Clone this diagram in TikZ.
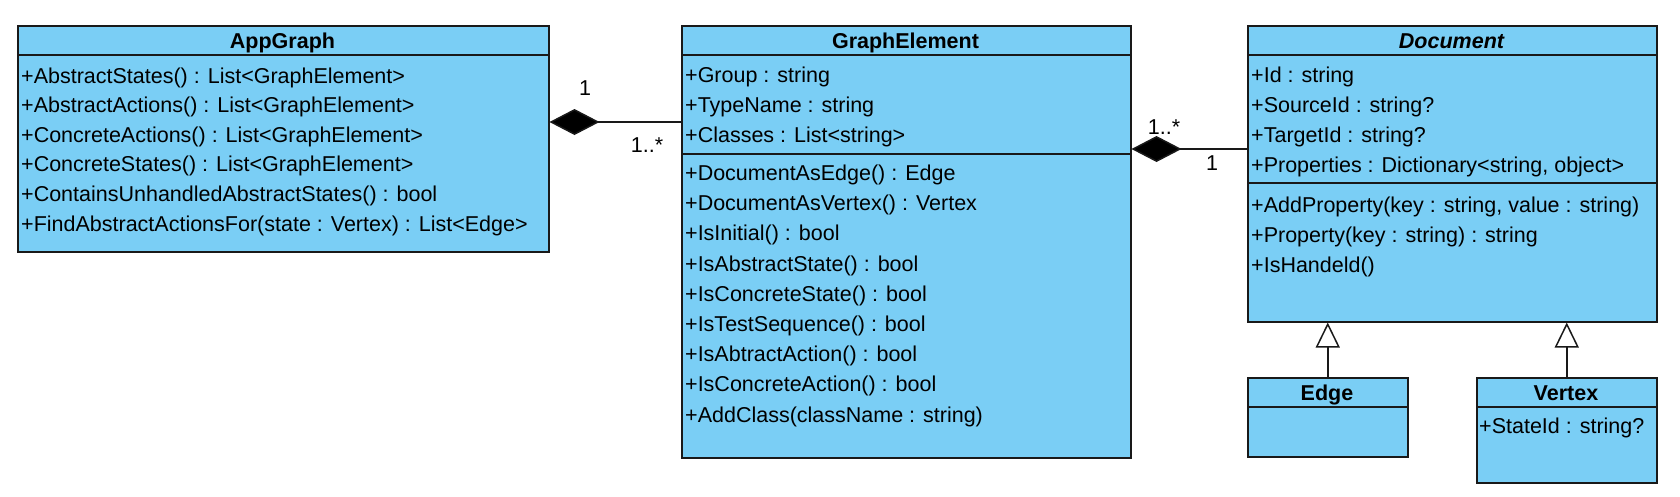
\documentclass[tikz,border=0pt]{standalone}
\usepackage{fontspec}
\setmainfont{Liberation Sans}
\usetikzlibrary{arrows.meta}
\definecolor{umlfill}{RGB}{122,206,245}
\definecolor{umlline}{RGB}{25,25,25}
\tikzset{
  classbox/.style={draw=umlline, fill=umlfill, line width=1.5pt, rectangle, inner sep=0pt, anchor=north west},
  member/.style={anchor=base west, inner sep=0pt, font=\fontsize{21.5}{25}\selectfont},
  classtitle/.style={anchor=base, inner sep=0pt, font=\fontsize{21.5}{25}\selectfont\bfseries},
  mult/.style={anchor=center, inner sep=0pt, font=\fontsize{21.5}{25}\selectfont},
  sepline/.style={draw=umlline, line width=1.5pt},
  composition/.style={draw=umlline, line width=1.5pt, {Diamond[length=50pt,width=26pt,fill=black]}-},
  generalization/.style={draw=umlline, line width=1.5pt, -{Triangle[open,length=25pt,width=24pt,fill=white]}},
}
\begin{document}
\begin{tikzpicture}[x=1pt,y=-1pt]
\useasboundingbox (0,0) rectangle (1680,496);
\fill[white] (0,0) rectangle (1680,496);

% ---------- boxes ----------
\node[classbox, minimum width=531pt, minimum height=226pt] (appgraph) at (17,25) {};
\node[classbox, minimum width=449pt, minimum height=432pt] (graphelement) at (681,25) {};
\node[classbox, minimum width=409pt, minimum height=296pt] (document) at (1247,25) {};
\node[classbox, minimum width=160pt, minimum height=79pt] (edge) at (1247,377) {};
\node[classbox, minimum width=180pt, minimum height=105pt] (vertex) at (1476,377) {};

% ---------- compartment lines ----------
\draw[sepline] (appgraph.west |- 0,55) -- (appgraph.east |- 0,55);
\draw[sepline] (graphelement.west |- 0,55) -- (graphelement.east |- 0,55);
\draw[sepline] (graphelement.west |- 0,154) -- (graphelement.east |- 0,154);
\draw[sepline] (document.west |- 0,55) -- (document.east |- 0,55);
\draw[sepline] (document.west |- 0,183) -- (document.east |- 0,183);
\draw[sepline] (edge.west |- 0,407) -- (edge.east |- 0,407);
\draw[sepline] (vertex.west |- 0,407) -- (vertex.east |- 0,407);

% ---------- titles ----------
\node[classtitle] (tappgraph) at (282.5,48) {AppGraph};
\node[classtitle] (tgraphelement) at (905.5,48) {GraphElement};
\node[classtitle] (tdocument) at (1451.5,48) {\itshape Document};
\node[classtitle] (tedge) at (1327,400) {Edge};
\node[classtitle] (tvertex) at (1566,400) {Vertex};

% ---------- AppGraph members ----------
\node[member] (ag1) at (21,83) {+AbstractStates() : List<GraphElement>};
\node[member] (ag2) at (21,112.6) {+AbstractActions() : List<GraphElement>};
\node[member] (ag3) at (21,142.2) {+ConcreteActions() : List<GraphElement>};
\node[member] (ag4) at (21,171.8) {+ConcreteStates() : List<GraphElement>};
\node[member] (ag5) at (21,201.4) {+ContainsUnhandledAbstractStates() : bool};
\node[member] (ag6) at (21,231) {+FindAbstractActionsFor(state : Vertex) : List<Edge>};

% ---------- GraphElement members ----------
\node[member] (ge1) at (685,82) {+Group : string};
\node[member] (ge2) at (685,112) {+TypeName : string};
\node[member] (ge3) at (685,142) {+Classes : List<string>};
\node[member] (ge4) at (685,180.5) {+DocumentAsEdge() : Edge};
\node[member] (ge5) at (685,210.7) {+DocumentAsVertex() : Vertex};
\node[member] (ge6) at (685,240.9) {+IsInitial() : bool};
\node[member] (ge7) at (685,271.1) {+IsAbstractState() : bool};
\node[member] (ge8) at (685,301.3) {+IsConcreteState() : bool};
\node[member] (ge9) at (685,331.5) {+IsTestSequence() : bool};
\node[member] (ge10) at (685,361.7) {+IsAbtractAction() : bool};
\node[member] (ge11) at (685,391.9) {+IsConcreteAction() : bool};
\node[member] (ge12) at (685,422.1) {+AddClass(className : string)};

% ---------- Document members ----------
\node[member] (do1) at (1251,82) {+Id : string};
\node[member] (do2) at (1251,112) {+SourceId : string?};
\node[member] (do3) at (1251,142) {+TargetId : string?};
\node[member] (do4) at (1251,172) {+Properties : Dictionary<string, object>};
\node[member] (do5) at (1251,212) {+AddProperty(key : string, value : string)};
\node[member] (do6) at (1251,242) {+Property(key : string) : string};
\node[member] (do7) at (1251,272) {+IsHandeld()};

% ---------- Vertex members ----------
\node[member] (ve1) at (1479,433) {+StateId : string?};

% ---------- connectors ----------
\coordinate (c1) at (0,122);
\coordinate (c2) at (0,149);
\draw[composition] (appgraph.east |- c1) -- (graphelement.west |- c1);
\draw[composition] (graphelement.east |- c2) -- (document.west |- c2);
\draw[generalization] (edge.north) -- (document.south -| edge.north);
\draw[generalization] (vertex.north) -- (document.south -| vertex.north);

% ---------- multiplicities ----------
\node[mult] (m1) at (585,88) {1};
\node[mult] (m2) at (647,145) {1..*};
\node[mult] (m3) at (1164,127) {1..*};
\node[mult] (m4) at (1212,163) {1};
\end{tikzpicture}
\end{document}
